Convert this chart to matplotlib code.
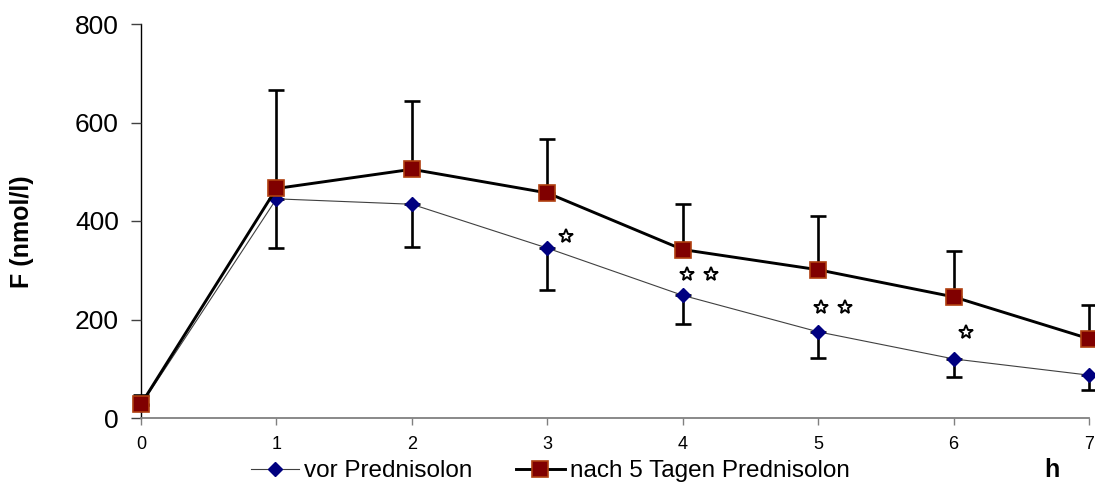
import numpy as np
import matplotlib
matplotlib.use("Agg")
import matplotlib.pyplot as plt

plt.rcParams['font.family'] = ['Liberation Sans', 'DejaVu Sans']

hours = [0, 1, 2, 3, 4, 5, 6, 7]

# vor Prednisolon (mean, lower error bar end)
vor = [26, 445, 434, 345, 249, 175, 120, 87]
vor_low = [26, 345, 347, 260, 190, 122, 84, 57]

# nach 5 Tagen Prednisolon (mean, upper error bar end)
nach = [28, 466, 505, 457, 342, 301, 246, 161]
nach_high = [46, 666, 643, 567, 434, 411, 340, 229]

# significance stars (x, y)
star_x = [3.14, 4.03, 4.21, 5.02, 5.20, 6.09]
star_y = [370, 292, 292, 225, 225, 175]

vor = np.array(vor)
nach = np.array(nach)
vor_err = [vor - np.array(vor_low), np.zeros(len(vor))]
nach_err = [np.zeros(len(nach)), np.array(nach_high) - nach]

fig = plt.figure(figsize=(10.95, 4.84), dpi=100)
ax = fig.add_axes([141/1095, 1 - 418/484, 948/1095, 394/484])

for eb in (ax.errorbar(hours, vor, yerr=vor_err, fmt='none', ecolor='black',
                       elinewidth=1.9, capsize=6, capthick=1.9, zorder=2),
           ax.errorbar(hours, nach, yerr=nach_err, fmt='none', ecolor='black',
                       elinewidth=1.9, capsize=6, capthick=1.9, zorder=2)):
    for art in eb.get_children():
        art.set_clip_on(False)

ax.plot(hours, vor, color='#404040', lw=0.8, marker='D', ms=7,
        mfc='#000080', mec='#000080', label='vor Prednisolon', zorder=3,
        clip_on=False)
ax.plot(hours, nach, color='black', lw=2.1, marker='s', ms=11.5,
        mfc='#800000', mec='#B04010', mew=1.2,
        label='nach 5 Tagen Prednisolon', zorder=4, clip_on=False)

ax.plot(star_x, star_y, ls='none', marker='*', ms=10, mfc='white',
        mec='black', mew=1.4, zorder=5)

ax.set_xlim(0, 7)
ax.set_ylim(0, 800)
ax.set_xticks(hours)
ax.set_yticks([0, 200, 400, 600, 800])

for s in ['top', 'right']:
    ax.spines[s].set_visible(False)
ax.spines['bottom'].set_color('#808080')
ax.spines['bottom'].set_linewidth(1.3)
ax.spines['left'].set_color('black')
ax.spines['left'].set_linewidth(1.0)
ax.spines['left'].set_zorder(1)

ax.tick_params(axis='y', direction='out', length=7, width=1.0,
               color='#404040', labelsize=19, pad=9)
ax.tick_params(axis='x', direction='out', length=5, width=1.0,
               color='#808080', labelsize=13, pad=8)

fig.text(22/1095, 1 - 232/484, 'F (nmol/l)', rotation=90, fontsize=18,
         fontweight='bold', ha='center', va='center')
fig.text(1052/1095, 1 - 470/484, 'h', fontsize=18, fontweight='bold',
         ha='center', va='center')

fig.legend(loc='center', bbox_to_anchor=(550/1095, 1 - 471/484), ncol=2,
           frameon=False, fontsize=17.5, handlelength=2.0, columnspacing=1.8,
           handletextpad=0.2, borderaxespad=0, borderpad=0)

fig.savefig('out.png', dpi=100)
